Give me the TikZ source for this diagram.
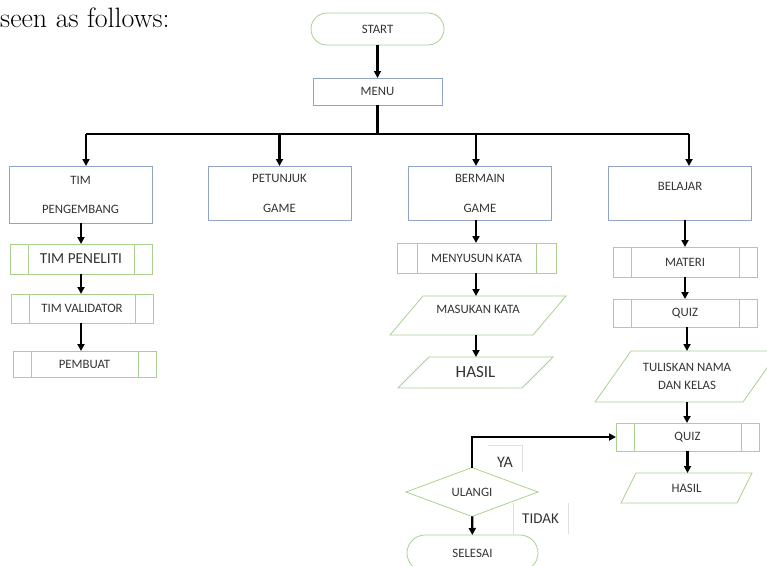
\documentclass[tikz,border=0pt]{standalone}
\usepackage{fontspec}
\usepackage{tikz}
\usetikzlibrary{shapes.misc}
\usetikzlibrary{shapes.geometric}
\usetikzlibrary{arrows.meta}
\newfontfamily\carlito{Carlito}
\definecolor{boxblue}{RGB}{143,164,200}
\definecolor{boxgreen}{RGB}{169,208,142}
\definecolor{txtgray}{RGB}{52,52,52}
\newcommand{\lbl}{\carlito\fontsize{12.8}{15}\selectfont}
\newcommand{\iobox}[2]{\draw[ioline] ([xshift=#2]#1.north west) -- ([xshift=#2]#1.north east) -- ([xshift=-#2]#1.south east) -- ([xshift=-#2]#1.south west) -- cycle;}

\begin{document}
\begin{tikzpicture}[x=1pt,y=-1pt,
  base/.style={font=\lbl, text=txtgray, inner sep=0pt, outer sep=0pt},
  term/.style={base, rounded rectangle, draw=boxgreen, line width=0.8pt, minimum width=133pt, minimum height=32pt},
  proc/.style={base, rectangle, draw=boxblue, line width=0.8pt, minimum width=143pt, minimum height=54pt, align=center},
  subproc/.style={base, rectangle, draw=boxgreen, line width=0.8pt, minimum width=143pt, minimum height=29pt,
    path picture={\draw[boxgreen, line width=0.8pt]
      ([xshift=#1]path picture bounding box.north west) -- ([xshift=#1]path picture bounding box.south west)
      ([xshift=-#1]path picture bounding box.north east) -- ([xshift=-#1]path picture bounding box.south east);}},
  subproc/.default=18pt,
  io/.style={base, rectangle, align=center},
  ioline/.style={draw=boxgreen, line width=0.8pt},
  decide/.style={base, diamond, draw=boxgreen, line width=0.8pt, minimum width=132pt, minimum height=44pt},
  flow/.style={line width=2.2pt},
  arr/.style={line width=2.2pt, -{Triangle[length=7pt,width=7pt]}},
  faint/.style={draw=gray!25, line width=0.6pt}]
\useasboundingbox (0,0) rectangle (767,565);

\node[anchor=base west, inner sep=0pt, font=\fontsize{28}{32}\selectfont] (head) at (0,27) {seen as follows:};

% top
\node[term] (start) at (377.5,29) {START};
\node[proc, minimum width=129pt, minimum height=27pt] (menu) at (377.5,91.5) {MENU};

% main branches
\node[proc, minimum height=57pt] (tim) at (80.5,194.5) {TIM\\[14pt]PENGEMBANG};
\node[proc] (pet) at (279.5,193) {PETUNJUK\\[15pt]GAME};
\node[proc] (ber) at (480,193) {BERMAIN\\[15pt]GAME};
\node[proc, text depth=14pt] (bel) at (680,193) {BELAJAR};

% tim pengembang
\node[subproc, minimum width=142pt, minimum height=30pt, font=\carlito\fontsize{15.3}{18}\selectfont] (pen) at (81,259) {TIM PENELITI};
\node[subproc, minimum width=142pt] (val) at (82,308.5) {TIM VALIDATOR};
\node[subproc, minimum height=26pt] (pem) at (84.5,364) {PEMBUAT};

% bermain game
\node[subproc=20pt, minimum width=159pt, minimum height=30pt] (sus) at (476.5,258) {MENYUSUN KATA};
\node[io, minimum width=143pt, minimum height=39pt, text depth=12pt] (mas) at (478,315.5) {MASUKAN KATA};
\node[io, minimum width=124pt, minimum height=31pt, font=\carlito\fontsize{17}{20}\selectfont] (has) at (475.5,372.5) {HASIL};
\iobox{mas}{16.5pt}
\iobox{has}{15.5pt}

% belajar
\node[subproc, minimum width=144pt, minimum height=30pt] (mat) at (685,262) {MATERI};
\node[subproc, minimum width=144pt, minimum height=28pt] (qz) at (685,313) {QUIZ};
\node[io, minimum width=148pt, minimum height=51pt] (tul) at (687,376.5) {TULISKAN NAMA\\[3pt]DAN KELAS};
\node[subproc, minimum width=143pt, minimum height=28pt] (qz2) at (687.5,437) {QUIZ};
\node[io, minimum width=116pt, minimum height=30pt] (has2) at (686.5,488) {HASIL};
\iobox{tul}{18pt}
\iobox{has2}{7.5pt}

% ulangi
\node[decide] (ul) at (472,492) {ULANGI};
\node[term, minimum width=131pt, minimum height=36pt] (sel) at (472.5,553) {SELESAI};
\node[base, font=\carlito\fontsize{16}{19}\selectfont, minimum width=34pt, minimum height=27pt, text height=17pt, text depth=0pt] (ya) at (505,458.5) {YA};
\node[base, font=\carlito\fontsize{15}{18}\selectfont, minimum width=55pt, minimum height=31pt] (tdk) at (540.5,518.5) {TIDAK};
\draw[faint] (ya.north west) -- (ya.north east) -- (ya.south east);
\draw[faint] (tdk.north west) -- (tdk.south west) (tdk.north east) -- (tdk.south east);

% connectors
\coordinate (bl) at (86,134);
\coordinate (br) at (689,134);
\coordinate (c3) at (476,134);
\draw[arr] (start) -- (menu);
\draw[flow] (menu.south) -- (menu.south |- bl);
\draw[flow] (bl) -- (br);
\draw[arr] (bl) -- (bl |- tim.north);
\draw[arr] (pet.north |- bl) -- (pet.north);
\draw[arr] (c3) -- (c3 |- ber.north);
\draw[arr] (br) -- (br |- bel.north);

\draw[arr] (tim.south -| pen) -- (pen);
\draw[arr] (pen) -- (pen |- val.north);
\draw[arr] (val.south -| pen) -- (pen |- pem.north);

\draw[arr] (c3 |- ber.south) -- (c3 |- sus.north);
\draw[arr] (c3 |- sus.south) -- (c3 |- mas.north);
\draw[arr] (c3 |- mas.south) -- (c3 |- has.north);

\draw[arr] (bel.south -| mat) -- (mat);
\draw[arr] (mat) -- (qz);
\draw[arr] (qz.south -| tul) -- (tul);
\draw[arr] (tul) -- (tul |- qz2.north);
\draw[arr] (qz2) -- (qz2 |- has2.north);

\draw[arr] (ul.north) |- (qz2.west);
\draw[arr] (ul) -- (sel);
\end{tikzpicture}
\end{document}
